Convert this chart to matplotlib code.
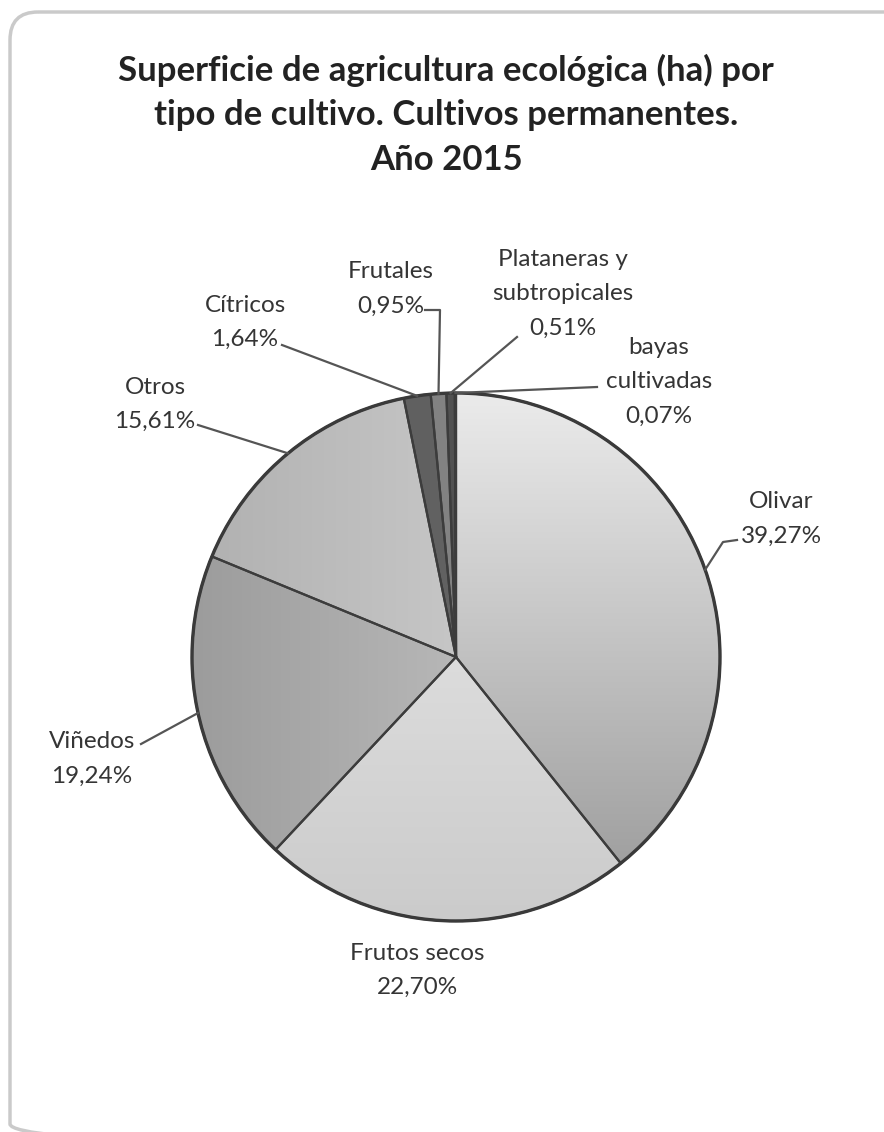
import matplotlib

matplotlib.use("Agg")
import matplotlib.pyplot as plt
import numpy as np
from matplotlib.colors import to_rgb
from matplotlib.patches import Circle, FancyBboxPatch

W, H = 884, 1132

titulo = [
    "Superficie de agricultura ecológica (ha) por",
    "tipo de cultivo. Cultivos permanentes.",
    "Año 2015",
]
categorias = [
    "Olivar",
    "Frutos secos",
    "Viñedos",
    "Otros",
    "Cítricos",
    "Frutales",
    "Plataneras y\nsubtropicales",
    "bayas\ncultivadas",
]
porcentajes = [39.27, 22.70, 19.24, 15.61, 1.64, 0.95, 0.51, 0.07]

# gray gradients per slice: (start colour, end colour, direction in degrees, screen coords)
degradados = [
    ("#ebebeb", "#979797", 90),
    ("#ededed", "#cbcbcb", 90),
    ("#9c9c9c", "#d2d2d2", 0),
    ("#b0b0b0", "#dcdcdc", 0),
    ("#585858", "#6c6c6c", 0),
    ("#8a8a8a", "#7a7a7a", 0),
    ("#4a4a4a", "#5a5a5a", 0),
    ("#3a3a3a", "#3a3a3a", 0),
]

# label block centres (x, first-line y) and leader elbows, in pixels from top-left
pos_etiquetas = [
    (781, 502), (417, 953), (92, 742), (155, 387),
    (245, 305), (391, 272), (563, 260), (659, 348),
]
guias = [
    [(737, 540), (723, 542)],
    None,
    [(141, 744)],
    [(198, 425)],
    [(282, 345)],
    [(425, 310), (440, 310)],
    [(517, 337)],
    [(597, 387)],
]

CENTRO = (456, 657)
RADIO = 264
PASO = 34

plt.rcParams["font.family"] = ["Lato", "DejaVu Sans"]

fig = plt.figure(figsize=(W / 100, H / 100), dpi=100)
ax = fig.add_axes([0, 0, 1, 1])

# y axis points down, so counterclock=True runs clockwise on screen from the top
wedges, _ = ax.pie(
    porcentajes,
    center=CENTRO,
    radius=RADIO,
    startangle=-90,
    counterclock=True,
    colors=["none"] * len(porcentajes),
    wedgeprops=dict(edgecolor="#3c3c3c", linewidth=1.6),
)
ax.set_xlim(0, W)
ax.set_ylim(H, 0)
ax.set_aspect("equal")
ax.axis("off")

# gradient fill clipped to each wedge
x0, x1 = CENTRO[0] - RADIO, CENTRO[0] + RADIO
y0, y1 = CENTRO[1] - RADIO, CENTRO[1] + RADIO
gx, gy = np.meshgrid(np.linspace(x0, x1, 300), np.linspace(y0, y1, 300))
for w, (c_a, c_b, ang) in zip(wedges, degradados):
    d = np.array([np.cos(np.radians(ang)), np.sin(np.radians(ang))])
    t = (gx - x0) * d[0] + (gy - y0) * d[1]
    t = (t - t.min()) / max(t.max() - t.min(), 1e-9)
    a, b = np.array(to_rgb(c_a)), np.array(to_rgb(c_b))
    img = a + (b - a) * t[..., None]
    im = ax.imshow(img, extent=(x0, x1, y1, y0), origin="upper", zorder=1, interpolation="bilinear")
    im.set_clip_path(w)
    w.set_zorder(2)

ax.add_patch(Circle(CENTRO, RADIO, fill=False, edgecolor="#3a3a3a", linewidth=2.4, zorder=3))

# labels and leader lines
for w, nombre, val, (lx, ly), guia in zip(wedges, categorias, porcentajes, pos_etiquetas, guias):
    lineas = nombre.split("\n") + [f"{val:.2f}".replace(".", ",") + "%"]
    for i, linea in enumerate(lineas):
        ax.text(lx, ly + i * PASO, linea, ha="center", va="center",
                fontsize=17.5, color="#353535", zorder=5)
    if guia is None:
        continue
    mid = np.radians((w.theta1 + w.theta2) / 2)
    borde = (CENTRO[0] + RADIO * np.cos(mid), CENTRO[1] + RADIO * np.sin(mid))
    pts = np.array(guia + [borde])
    ax.plot(pts[:, 0], pts[:, 1], color="#555555", linewidth=1.6, zorder=4)

for i, linea in enumerate(titulo):
    ax.text(446, 70 + i * 45, linea, ha="center", va="center", fontsize=25,
            fontweight="bold", color="#222222")

# chart-area frame; its right and bottom edges run past the canvas
marco = FancyBboxPatch((10, 12), 905, 1140, boxstyle="round,pad=0,rounding_size=28",
                       facecolor="none", edgecolor="#cacaca", linewidth=2.5, zorder=0)
ax.add_patch(marco)

fig.savefig("out.png", dpi=100)
